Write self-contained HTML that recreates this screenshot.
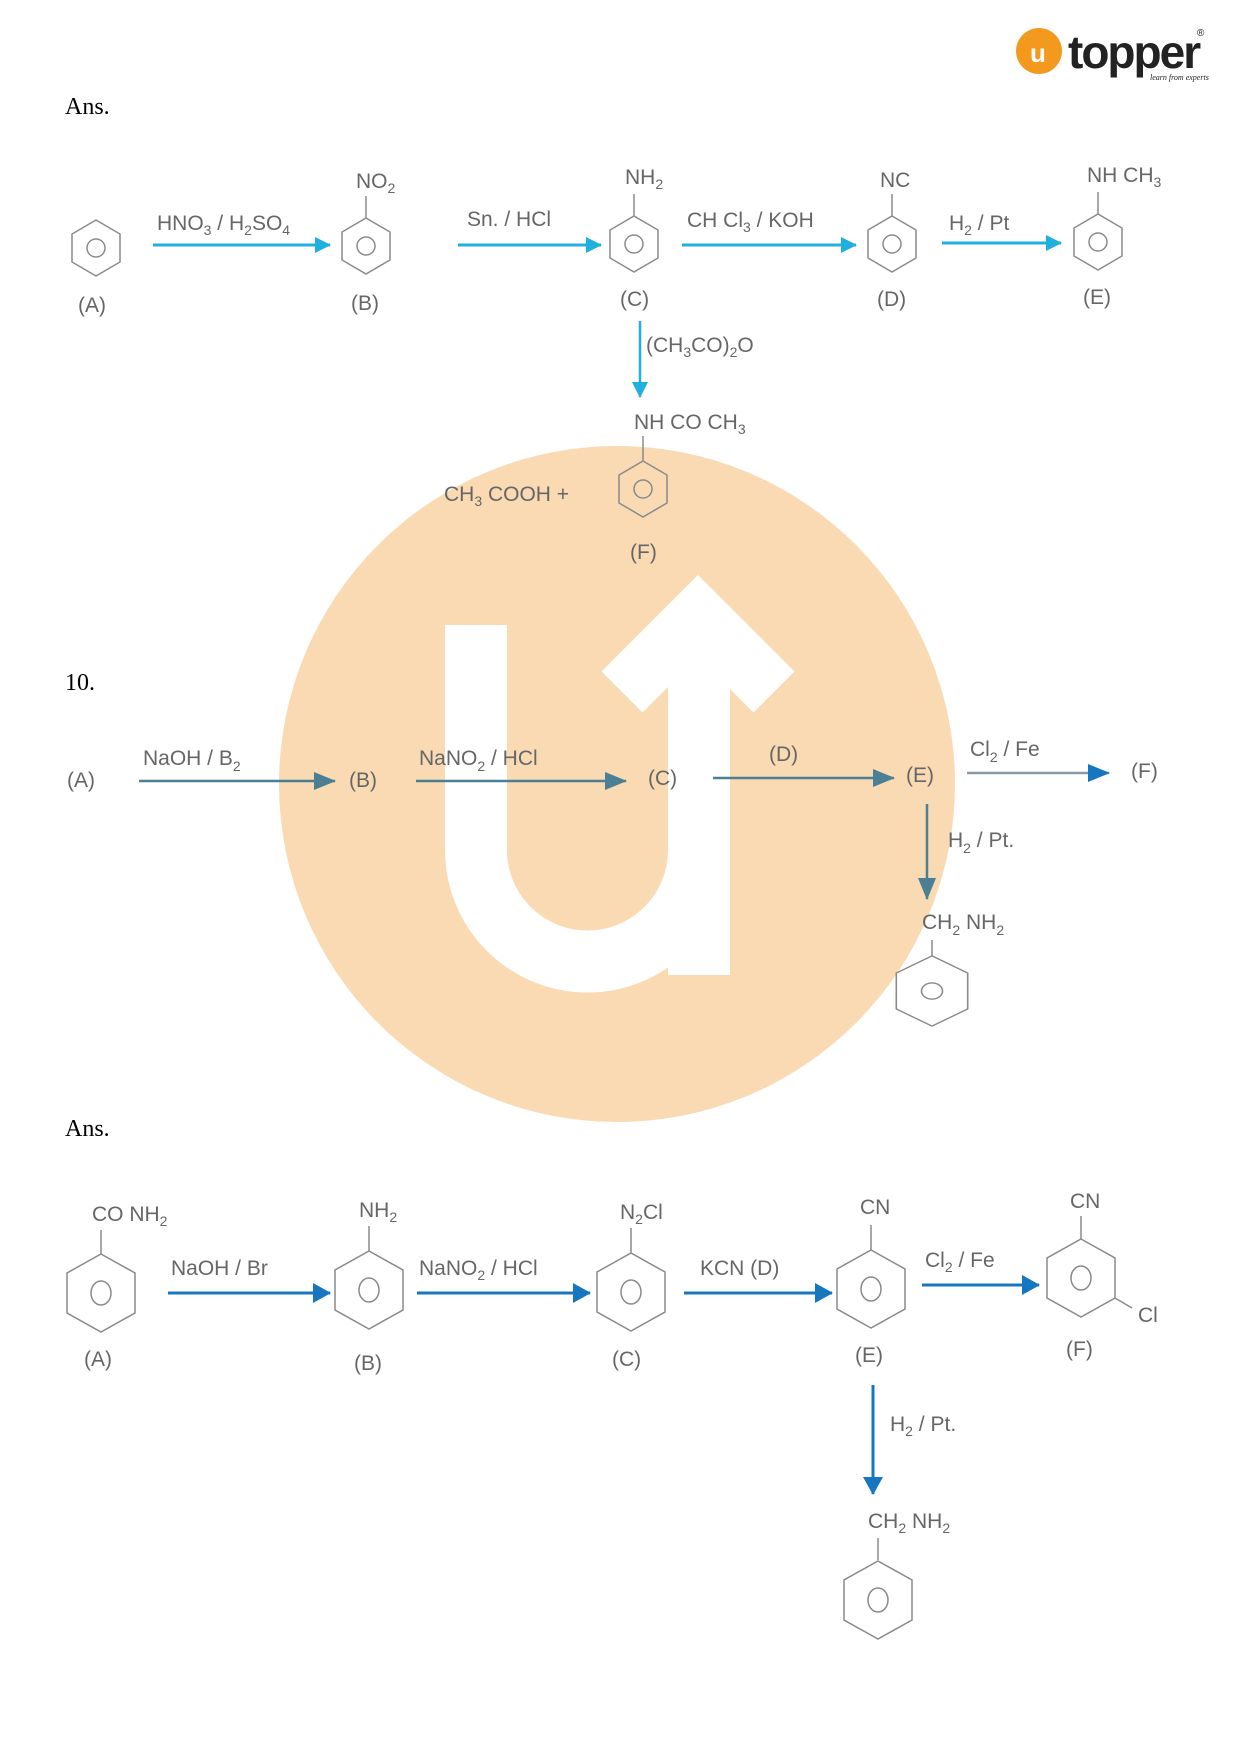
<!DOCTYPE html>
<html><head><meta charset="utf-8"><style>
html,body{margin:0;padding:0;background:#fff}
svg{display:block}
.t{font-family:"Liberation Sans",sans-serif;font-size:21px;fill:#666}
.s{font-size:14px}
.serif{font-family:"Liberation Serif",serif;font-size:24px;fill:#000}
.r{fill:none;stroke:#8a8a8a;stroke-width:1.5}
</style></head><body>
<svg width="1240" height="1755" viewBox="0 0 1240 1755" xmlns="http://www.w3.org/2000/svg">
<defs>
<marker id="ac" markerWidth="10" markerHeight="10" refX="9" refY="5" orient="auto" markerUnits="userSpaceOnUse"><path d="M0,0 L10,5 L0,10z" fill="#1fb0e0"/></marker>
<marker id="ag" markerWidth="22" markerHeight="18" refX="21" refY="9" orient="auto" markerUnits="userSpaceOnUse"><path d="M0,0 L22,9 L0,18z" fill="#4b7f93"/></marker>
<marker id="ab" markerWidth="22" markerHeight="18" refX="21" refY="9" orient="auto" markerUnits="userSpaceOnUse"><path d="M0,0 L22,9 L0,18z" fill="#1677c0"/></marker>
<marker id="ab2" markerWidth="18" markerHeight="20" refX="17" refY="10" orient="auto" markerUnits="userSpaceOnUse"><path d="M0,0 L18,10 L0,20z" fill="#1677c0"/></marker>
<marker id="ac2" markerWidth="16" markerHeight="16" refX="15" refY="8" orient="auto" markerUnits="userSpaceOnUse"><path d="M0,0 L16,8 L0,16z" fill="#1fb0e0"/></marker>
<g id="bz"><path class="r" d="M0,-28 L24,-14 L24,14 L0,28 L-24,14 L-24,-14z"/><circle class="r" r="9"/></g>
<g id="bz2"><path class="r" d="M0,-39 L34,-20 L34,20 L0,39 L-34,20 L-34,-20z"/><ellipse class="r" rx="10" ry="12"/></g>
</defs>

<!-- watermark -->
<circle cx="617" cy="784" r="338" fill="#f9dab3"/>
<path d="M476,625 V850 A111,111 0 0 0 699,850" fill="none" stroke="#fff" stroke-width="62"/>
<rect x="668" y="640" width="62" height="335" fill="#fff"/>
<polyline points="622,692 698,616 774,692" fill="none" stroke="#fff" stroke-width="58" stroke-linejoin="miter"/>

<!-- logo -->
<circle cx="1039" cy="51" r="23" fill="#f39a1e"/>
<text x="1030" y="62" font-family="Liberation Sans" font-size="26" fill="#fff" font-weight="bold">u</text>
<text x="1068" y="68" font-family="Liberation Sans" font-size="46" font-weight="bold" fill="#222" letter-spacing="-2">topper</text>
<text x="1197" y="36" font-family="Liberation Sans" font-size="10" fill="#222">®</text>
<text x="1150" y="80" font-family="Liberation Serif" font-size="8" font-style="italic" fill="#222">learn from experts</text>

<!-- Section 1 -->
<text class="serif" x="65" y="114">Ans.</text>
<use href="#bz" x="96" y="248"/>
<text class="t" x="78" y="312">(A)</text>
<line x1="153" y1="245" x2="330" y2="245" stroke="#1fb0e0" stroke-width="3" marker-end="url(#ac2)"/>
<text class="t" x="157" y="230">HNO<tspan class="s" dy="5">3</tspan><tspan dy="-5"> / H</tspan><tspan class="s" dy="5">2</tspan><tspan dy="-5">SO</tspan><tspan class="s" dy="5">4</tspan></text>
<use href="#bz" x="366" y="246"/><line class="r" x1="366" y1="218" x2="366" y2="196"/>
<text class="t" x="356" y="188">NO<tspan class="s" dy="5">2</tspan></text>
<text class="t" x="351" y="310">(B)</text>
<line x1="458" y1="245" x2="601" y2="245" stroke="#1fb0e0" stroke-width="3" marker-end="url(#ac2)"/>
<text class="t" x="467" y="226">Sn. / HCl</text>
<use href="#bz" x="634" y="244"/><line class="r" x1="634" y1="216" x2="634" y2="194"/>
<text class="t" x="625" y="184">NH<tspan class="s" dy="5">2</tspan></text>
<text class="t" x="620" y="306">(C)</text>
<line x1="682" y1="245" x2="856" y2="245" stroke="#1fb0e0" stroke-width="3" marker-end="url(#ac2)"/>
<text class="t" x="687" y="227">CH Cl<tspan class="s" dy="5">3</tspan><tspan dy="-5"> / KOH</tspan></text>
<use href="#bz" x="892" y="244"/><line class="r" x1="892" y1="216" x2="892" y2="194"/>
<text class="t" x="880" y="187">NC</text>
<text class="t" x="877" y="306">(D)</text>
<line x1="942" y1="243" x2="1061" y2="243" stroke="#1fb0e0" stroke-width="3" marker-end="url(#ac2)"/>
<text class="t" x="949" y="230">H<tspan class="s" dy="5">2</tspan><tspan dy="-5"> / Pt</tspan></text>
<use href="#bz" x="1098" y="242"/><line class="r" x1="1098" y1="214" x2="1098" y2="192"/>
<text class="t" x="1087" y="182">NH CH<tspan class="s" dy="5">3</tspan></text>
<text class="t" x="1083" y="304">(E)</text>
<line x1="640" y1="321" x2="640" y2="397" stroke="#1fb0e0" stroke-width="2.5" marker-end="url(#ac2)"/>
<text class="t" x="646" y="352">(CH<tspan class="s" dy="5">3</tspan><tspan dy="-5">CO)</tspan><tspan class="s" dy="5">2</tspan><tspan dy="-5">O</tspan></text>
<text class="t" x="634" y="429">NH CO CH<tspan class="s" dy="5">3</tspan></text>
<line class="r" x1="643" y1="436" x2="643" y2="461"/>
<use href="#bz" x="643" y="489"/>
<text class="t" x="444" y="501">CH<tspan class="s" dy="5">3</tspan><tspan dy="-5"> COOH   +</tspan></text>
<text class="t" x="630" y="559">(F)</text>

<!-- Section 2 -->
<text class="serif" x="65" y="690">10.</text>
<text class="t" x="67" y="787">(A)</text>
<line x1="139" y1="781" x2="335" y2="781" stroke="#4b7f93" stroke-width="2.5" marker-end="url(#ag)"/>
<text class="t" x="143" y="765">NaOH / B<tspan class="s" dy="6">2</tspan></text>
<text class="t" x="349" y="787">(B)</text>
<line x1="416" y1="781" x2="626" y2="781" stroke="#4b7f93" stroke-width="2.5" marker-end="url(#ag)"/>
<text class="t" x="419" y="765">NaNO<tspan class="s" dy="6">2</tspan><tspan dy="-6"> / HCl</tspan></text>
<text class="t" x="648" y="785">(C)</text>
<line x1="713" y1="778" x2="894" y2="778" stroke="#4b7f93" stroke-width="2.5" marker-end="url(#ag)"/>
<text class="t" x="769" y="761">(D)</text>
<text class="t" x="906" y="782">(E)</text>
<line x1="967" y1="773" x2="1109" y2="773" stroke="#8a9aa3" stroke-width="2.5" marker-end="url(#ab)"/>
<text class="t" x="970" y="756">Cl<tspan class="s" dy="6">2</tspan><tspan dy="-6"> / Fe</tspan></text>
<text class="t" x="1131" y="778">(F)</text>
<line x1="927" y1="804" x2="927" y2="899" stroke="#4b7f93" stroke-width="2.5" marker-end="url(#ag)"/>
<text class="t" x="948" y="847">H<tspan class="s" dy="6">2</tspan><tspan dy="-6"> / Pt.</tspan></text>
<text class="t" x="922" y="929">CH<tspan class="s" dy="6">2</tspan><tspan dy="-6"> NH</tspan><tspan class="s" dy="6">2</tspan></text>
<line class="r" x1="932" y1="940" x2="932" y2="956"/>
<g transform="translate(932,991) scale(1.05,0.9)"><path class="r" d="M0,-39 L34,-20 L34,20 L0,39 L-34,20 L-34,-20z"/><ellipse class="r" rx="10" ry="9"/></g>

<!-- Section 3 -->
<text class="serif" x="65" y="1136">Ans.</text>
<use href="#bz2" x="101" y="1293"/><line class="r" x1="101" y1="1254" x2="101" y2="1230"/>
<text class="t" x="92" y="1221">CO NH<tspan class="s" dy="5">2</tspan></text>
<text class="t" x="84" y="1366">(A)</text>
<line x1="168" y1="1293" x2="330" y2="1293" stroke="#1677c0" stroke-width="3" marker-end="url(#ab2)"/>
<text class="t" x="171" y="1275">NaOH / Br</text>
<use href="#bz2" x="369" y="1290"/><line class="r" x1="369" y1="1251" x2="369" y2="1226"/>
<text class="t" x="359" y="1217">NH<tspan class="s" dy="5">2</tspan></text>
<text class="t" x="354" y="1370">(B)</text>
<line x1="417" y1="1293" x2="590" y2="1293" stroke="#1677c0" stroke-width="3" marker-end="url(#ab2)"/>
<text class="t" x="419" y="1275">NaNO<tspan class="s" dy="5">2</tspan><tspan dy="-5"> / HCl</tspan></text>
<use href="#bz2" x="631" y="1292"/><line class="r" x1="631" y1="1253" x2="631" y2="1228"/>
<text class="t" x="620" y="1219">N<tspan class="s" dy="5">2</tspan><tspan dy="-5">Cl</tspan></text>
<text class="t" x="612" y="1366">(C)</text>
<line x1="684" y1="1293" x2="832" y2="1293" stroke="#1677c0" stroke-width="3" marker-end="url(#ab2)"/>
<text class="t" x="700" y="1275">KCN (D)</text>
<use href="#bz2" x="871" y="1289"/><line class="r" x1="871" y1="1250" x2="871" y2="1225"/>
<text class="t" x="860" y="1214">CN</text>
<text class="t" x="855" y="1362">(E)</text>
<line x1="922" y1="1285" x2="1039" y2="1285" stroke="#1677c0" stroke-width="3" marker-end="url(#ab2)"/>
<text class="t" x="925" y="1267">Cl<tspan class="s" dy="5">2</tspan><tspan dy="-5"> / Fe</tspan></text>
<use href="#bz2" x="1081" y="1278"/><line class="r" x1="1081" y1="1239" x2="1081" y2="1216"/>
<line class="r" x1="1115" y1="1298" x2="1132" y2="1308"/>
<text class="t" x="1070" y="1208">CN</text>
<text class="t" x="1138" y="1322">Cl</text>
<text class="t" x="1066" y="1356">(F)</text>
<line x1="873" y1="1385" x2="873" y2="1494" stroke="#1677c0" stroke-width="3" marker-end="url(#ab2)"/>
<text class="t" x="890" y="1431">H<tspan class="s" dy="5">2</tspan><tspan dy="-5"> / Pt.</tspan></text>
<text class="t" x="868" y="1528">CH<tspan class="s" dy="5">2</tspan><tspan dy="-5"> NH</tspan><tspan class="s" dy="5">2</tspan></text>
<line class="r" x1="878" y1="1538" x2="878" y2="1560"/>
<use href="#bz2" x="878" y="1600"/>
</svg>
</body></html>
